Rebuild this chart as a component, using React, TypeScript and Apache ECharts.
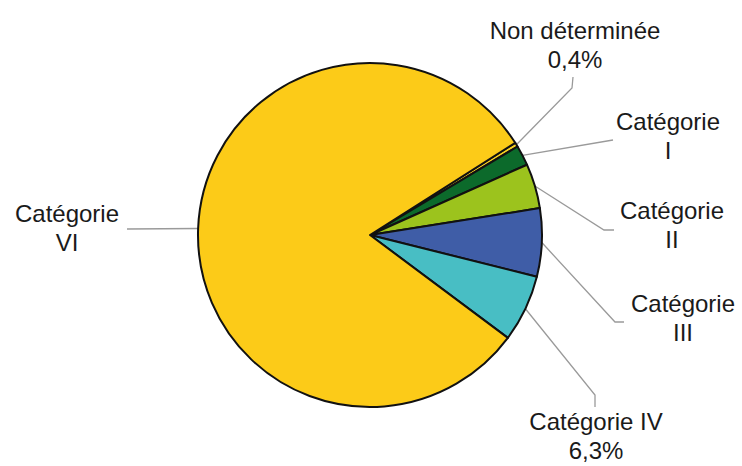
import React, { useEffect, useRef } from "react";
import * as echarts from "echarts";

const categories = [
  "Non déterminée",
  "Catégorie\nI",
  "Catégorie\nII",
  "Catégorie\nIII",
  "Catégorie IV",
  "Catégorie\nVI",
];
const values = [0.4, 1.9, 4.2, 6.4, 6.3, 80.8];
const showPercent = [true, false, false, false, true, false];
const colors = ["#F6CF22", "#0C6A2B", "#9CC31D", "#3F5DA7", "#48BEC4", "#FCCB18"];

// label layout (centre of each label block) and elbow points of the leader lines
const labelPos: number[][] = [
  [575, 45],
  [668, 136],
  [672, 225],
  [683, 318],
  [596, 436],
  [67, 228],
];
const elbows: number[][][] = [
  [[572, 88], [573, 77]],
  [[613, 140]],
  [[604, 230], [614, 230]],
  [[615, 322], [624, 322]],
  [[595, 395], [595, 407]],
  [[127, 229]],
];

export default function App() {
  const ref = useRef<HTMLDivElement>(null);
  useEffect(() => {
    document.body.style.margin = "0";
    const chart = echarts.init(ref.current!, undefined, { renderer: "svg" });
    chart.setOption({
      animation: false,
      backgroundColor: "#ffffff",
      series: [
        {
          type: "pie",
          center: [370, 235],
          radius: 172,
          startAngle: 32.4,
          clockwise: true,
          avoidLabelOverlap: false,
          data: categories.map((name, i) => ({
            name,
            value: values[i],
            itemStyle: { color: colors[i] },
          })),
          itemStyle: { borderColor: "#111", borderWidth: 2 },
          label: {
            show: true,
            position: "outside",
            fontFamily: "Liberation Sans, Arial, sans-serif",
            fontSize: 24,
            lineHeight: 29,
            color: "#1a1a1a",
            align: "center",
            formatter: (p: any) =>
              showPercent[p.dataIndex]
                ? p.name + "\n" + values[p.dataIndex].toFixed(1).replace(".", ",") + "%"
                : p.name,
          },
          labelLine: {
            show: true,
            smooth: false,
            length: 20,
            length2: 20,
            lineStyle: { color: "#9a9a9a", width: 1.3 },
          },
          labelLayout: (params: any) => {
            const i = params.dataIndex;
            const start = params.labelLinePoints ? params.labelLinePoints[0] : [0, 0];
            return {
              x: labelPos[i][0],
              y: labelPos[i][1],
              align: "center",
              verticalAlign: "middle",
              labelLinePoints: [start, ...elbows[i]],
            };
          },
          emphasis: { disabled: true },
        },
      ],
    });
    return () => chart.dispose();
  }, []);
  return <div ref={ref} style={{ width: 742, height: 466 }} />;
}
